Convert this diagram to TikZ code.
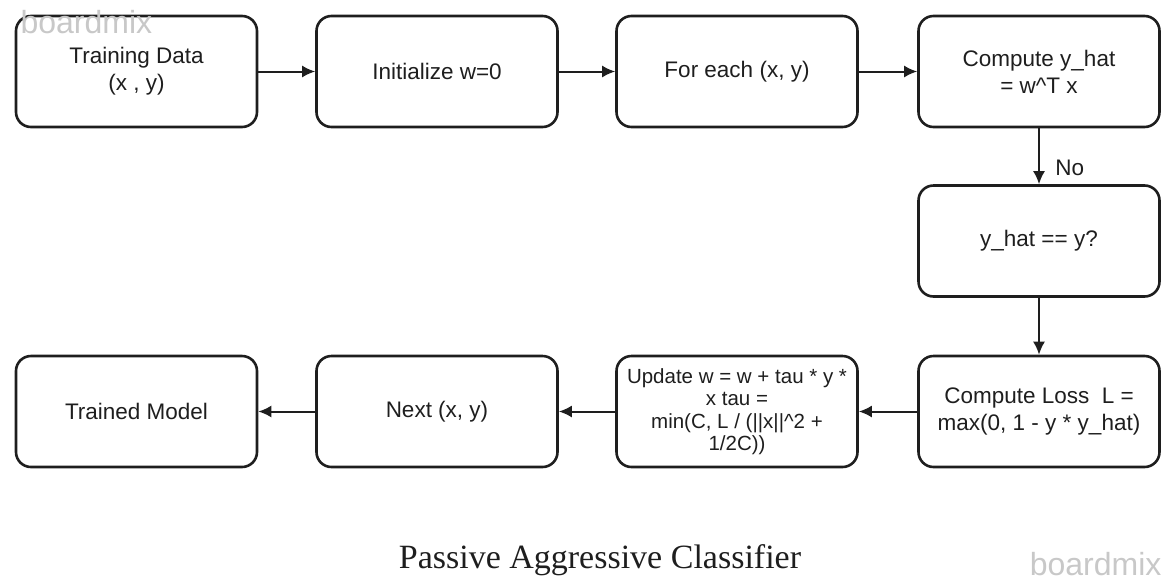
\documentclass[tikz,border=0pt]{standalone}
\usepackage{fontspec}
\setmainfont{Liberation Serif}
\setsansfont{Liberation Sans}
\usetikzlibrary{arrows.meta}
\definecolor{inkgray}{RGB}{30,30,30}
\definecolor{markgray}{RGB}{200,200,200}
\tikzset{
  stepbox/.style={draw=inkgray, line width=2.6pt, rounded corners=15pt,
    minimum width=241pt, minimum height=111pt, align=center,
    font=\sffamily\fontsize{22.5}{27}\selectfont, text=inkgray},
  flow/.style={draw=inkgray, line width=2pt, -{Latex[length=13pt,width=12pt]}}
}
\begin{document}
\begin{tikzpicture}[x=1pt, y=-1pt]
    \useasboundingbox (0, 0) rectangle (1175, 587);
        % top row
        \node[stepbox] (data) at (136.5, 71.5) {Training Data\\(x , y)};
        \node[stepbox] (init) at (437, 71.5) {Initialize w=0};
        \node[stepbox] (each) at (737, 71.5) {For each (x, y)};
        \node[stepbox] (pred) at (1039, 71.5) {Compute y\_hat\\ = w\^{}T x};
        % decision
        \node[stepbox] (check) at (1039, 241) {y\_hat == y?};
        % bottom row
        \node[stepbox] (loss) at (1039, 411.5) {Compute Loss\ \ L =\\max(0, 1 - y * y\_hat)};
        \node[stepbox, font=\sffamily\fontsize{20.5}{22.5}\selectfont] (upd) at (737, 411.5)
            {Update w = w + tau * y *\\x tau =\\min(C, L / (||x||\^{}2 +\\1/2C))};
        \node[stepbox] (next) at (437, 411.5) {Next (x, y)};
        \node[stepbox] (model) at (136.5, 411.5) {Trained Model};
        %
        \draw[flow] (data) -- (init);
        \draw[flow] (init) -- (each);
        \draw[flow] (each) -- (pred);
        \draw[flow] (pred) -- node[pos=0.7, right, xshift=12pt, font=\sffamily\fontsize{22.5}{27}\selectfont, text=inkgray] (no) {No} (check);
        \draw[flow] (check) -- (loss);
        \draw[flow] (loss) -- (upd);
        \draw[flow] (upd) -- (next);
        \draw[flow] (next) -- (model);
        % title and marks
        \node[font=\fontsize{34}{38}\selectfont, text=inkgray] (title) at (600, 560) {Passive Aggressive Classifier};
        \node[font=\sffamily\fontsize{32}{36}\selectfont, text=markgray, anchor=west] (markA) at (17, 22) {boardmix};
        \node[font=\sffamily\fontsize{32}{36}\selectfont, text=markgray, anchor=east] (markB) at (1165, 564) {boardmix};
    \end{tikzpicture}
\end{document}
